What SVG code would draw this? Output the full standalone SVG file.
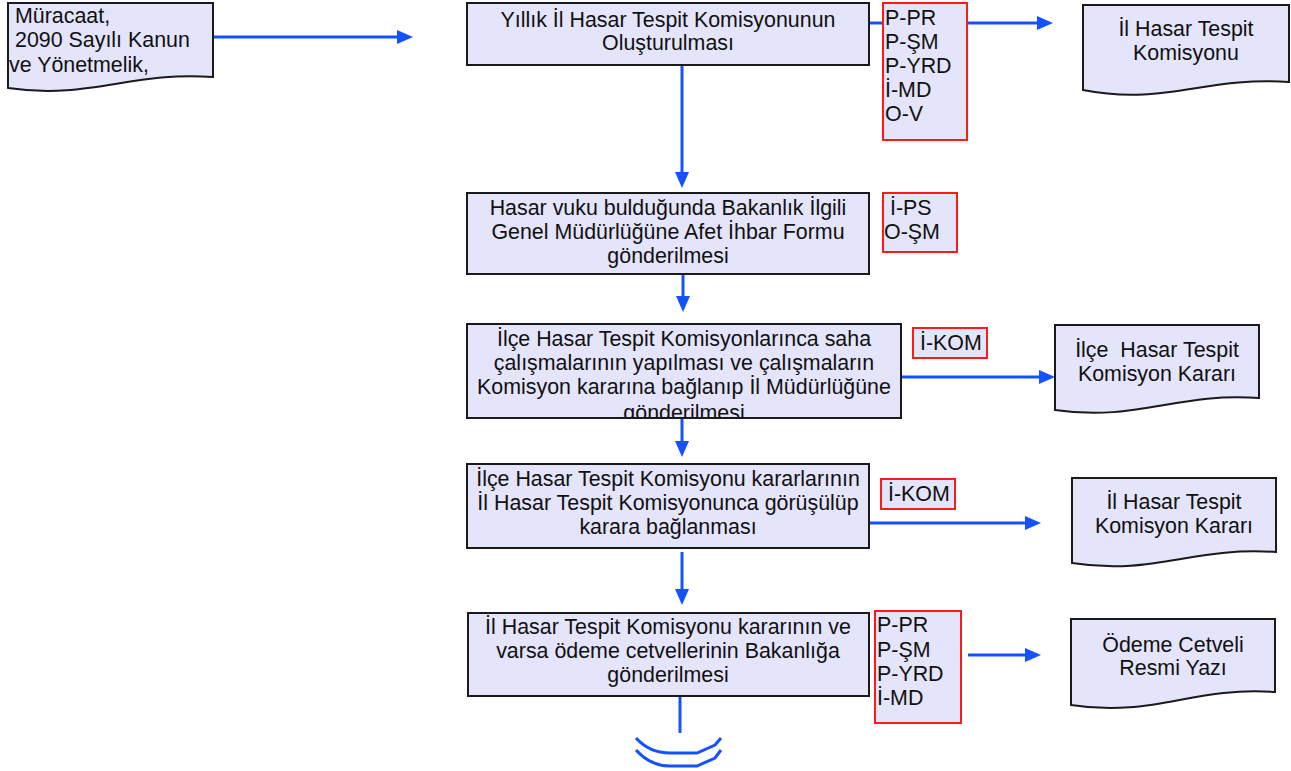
<svg xmlns="http://www.w3.org/2000/svg" width="1291" height="771" viewBox="0 0 1291 771">
<style>
.box{fill:#E4E4FA;stroke:#1a1a1a;stroke-width:2}
.rbox{fill:#E4E4FA;stroke:#FF1A1A;stroke-width:2}
.t{font-family:"Liberation Sans",Arial,sans-serif;font-size:21.4px;fill:#111}
.c{text-anchor:middle}
.con{stroke:#1452FF;stroke-width:3;fill:none}
</style>
<defs>
<marker id="ah" markerUnits="userSpaceOnUse" markerWidth="16" markerHeight="14" refX="1" refY="7" orient="auto" viewBox="0 0 16 14">
<path d="M0,0 L16,7 L0,14 z" fill="#1452FF"/>
</marker>
<clipPath id="clip4"><rect x="468" y="325" width="432" height="92"/></clipPath>
</defs>
<rect width="1291" height="771" fill="#ffffff"/>

<g id="connectors">
<line class="con" x1="213" y1="37" x2="398" y2="37" marker-end="url(#ah)"/>
<line class="con" x1="869" y1="23" x2="883" y2="23"/>
<line class="con" x1="967" y1="23" x2="1038" y2="23" marker-end="url(#ah)"/>
<line class="con" x1="682" y1="65" x2="682" y2="173" marker-end="url(#ah)"/>
<line class="con" x1="683" y1="274" x2="683" y2="297" marker-end="url(#ah)"/>
<line class="con" x1="901" y1="377" x2="1040" y2="377" marker-end="url(#ah)"/>
<line class="con" x1="682" y1="418" x2="682" y2="442" marker-end="url(#ah)"/>
<line class="con" x1="869" y1="523" x2="1026" y2="523" marker-end="url(#ah)"/>
<line class="con" x1="682" y1="552" x2="682" y2="590" marker-end="url(#ah)"/>
<line class="con" x1="968" y1="655" x2="1026" y2="655" marker-end="url(#ah)"/>
<line class="con" x1="680" y1="696" x2="680" y2="733"/>
<path class="con" stroke-width="2.5" d="M636,738 C645,748 655,753 670,753 L697,753 L715,745 L721,738"/>
<path class="con" stroke-width="2.5" d="M636,750 C645,760 655,766 670,766 L697,766 L715,758 L721,750"/>
</g>

<g id="doc1">
<path class="box" d="M8,3 H213 V77 C131,71 90,100 8,88 Z"/>
<text class="t" x="15" y="23">Müracaat,</text>
<text class="t" x="15" y="47">2090 Sayılı Kanun</text>
<text class="t" x="9" y="72">ve Yönetmelik,</text>
</g>

<g id="box1">
<rect class="box" x="467" y="3" width="402" height="62"/>
<text class="t c" x="668" y="27">Yıllık İl Hasar Tespit Komisyonunun</text>
<text class="t c" x="668" y="50">Oluşturulması</text>
</g>

<g id="roles1">
<rect class="rbox" x="883" y="3" width="84" height="137"/>
<text class="t" x="885" y="25">P-PR</text>
<text class="t" x="885" y="49">P-ŞM</text>
<text class="t" x="885" y="73">P-YRD</text>
<text class="t" x="885" y="97">İ-MD</text>
<text class="t" x="885" y="121">O-V</text>
</g>

<g id="doc2">
<path class="box" d="M1083,5 H1289 V82 C1206,76 1165,106 1083,90 Z"/>
<text class="t c" x="1186" y="36">İl Hasar Tespit</text>
<text class="t c" x="1186" y="60">Komisyonu</text>
</g>

<g id="box3">
<rect class="box" x="467" y="193" width="402" height="81"/>
<text class="t c" x="668" y="215">Hasar vuku bulduğunda Bakanlık İlgili</text>
<text class="t c" x="668" y="239">Genel Müdürlüğüne Afet İhbar Formu</text>
<text class="t c" x="668" y="263">gönderilmesi</text>
</g>

<g id="roles2">
<rect class="rbox" x="883" y="193" width="74" height="59"/>
<text class="t" x="890" y="215">İ-PS</text>
<text class="t" x="884" y="239">O-ŞM</text>
</g>

<g id="box4">
<rect class="box" x="467" y="324" width="434" height="94"/>
<text class="t c" x="684" y="346">İlçe Hasar Tespit Komisyonlarınca saha</text>
<text class="t c" x="684" y="370">çalışmalarının yapılması ve çalışmaların</text>
<text class="t c" x="684" y="394">Komisyon kararına bağlanıp İl Müdürlüğüne</text>
<text class="t c" x="684" y="420" clip-path="url(#clip4)">gönderilmesi</text>
</g>

<g id="roles3">
<rect class="rbox" x="913" y="328" width="74" height="30"/>
<text class="t" x="920" y="350">İ-KOM</text>
</g>

<g id="doc3">
<path class="box" d="M1055,325 H1259 V398 C1177,392 1137,422 1055,410 Z"/>
<text class="t c" x="1157" y="357">İlçe&#160; Hasar Tespit</text>
<text class="t c" x="1157" y="381">Komisyon Kararı</text>
</g>

<g id="box5">
<rect class="box" x="467" y="464" width="402" height="84"/>
<text class="t c" x="668" y="486">İlçe Hasar Tespit Komisyonu kararlarının</text>
<text class="t c" x="668" y="510">İl Hasar Tespit Komisyonunca görüşülüp</text>
<text class="t c" x="668" y="534">karara bağlanması</text>
</g>

<g id="roles4">
<rect class="rbox" x="881" y="479" width="74" height="30"/>
<text class="t" x="888" y="501">İ-KOM</text>
</g>

<g id="doc4">
<path class="box" d="M1072,478 H1276 V552 C1194,546 1154,576 1072,563 Z"/>
<text class="t c" x="1174" y="509">İl Hasar Tespit</text>
<text class="t c" x="1174" y="533">Komisyon Kararı</text>
</g>

<g id="box6">
<rect class="box" x="468" y="613" width="401" height="83"/>
<text class="t c" x="668" y="634">İl Hasar Tespit Komisyonu kararının ve</text>
<text class="t c" x="668" y="658">varsa ödeme cetvellerinin Bakanlığa</text>
<text class="t c" x="668" y="682">gönderilmesi</text>
</g>

<g id="roles5">
<rect class="rbox" x="875" y="611" width="86" height="112"/>
<text class="t" x="877" y="632">P-PR</text>
<text class="t" x="877" y="657">P-ŞM</text>
<text class="t" x="877" y="681">P-YRD</text>
<text class="t" x="877" y="705">İ-MD</text>
</g>

<g id="doc5">
<path class="box" d="M1071,619 H1275 V692 C1193,686 1153,718 1071,705 Z"/>
<text class="t c" x="1173" y="652">Ödeme Cetveli</text>
<text class="t c" x="1173" y="675">Resmi Yazı</text>
</g>
</svg>
